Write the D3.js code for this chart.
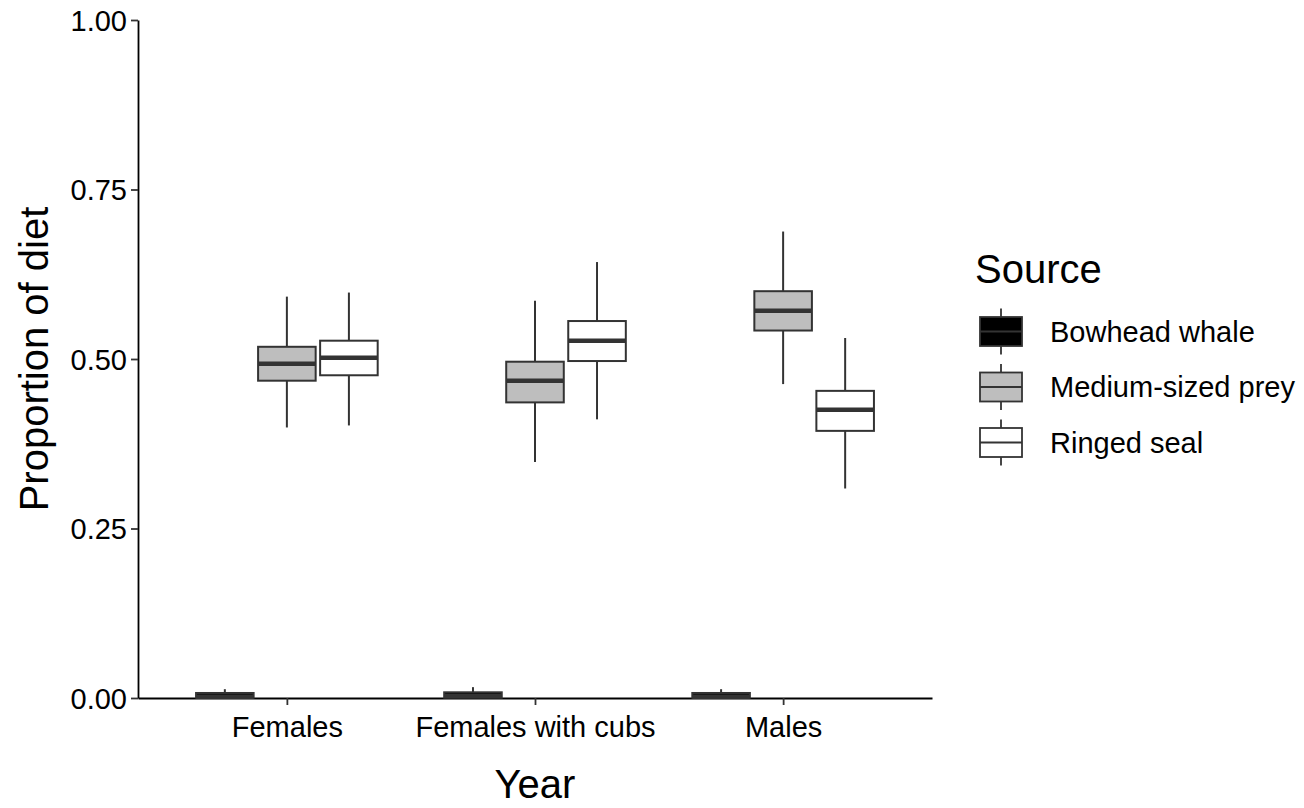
<!DOCTYPE html>
<html>
<head>
<meta charset="utf-8">
<script src="https://cdn.jsdelivr.net/npm/d3@7"></script>
<style>
  body { margin: 0; background: #fff; }
  svg text { font-family: "Liberation Sans", Arial, sans-serif; fill: #000; }
</style>
</head>
<body>
<svg id="chart" width="1304" height="808"></svg>
<script>
// categories and series
var groups = ['Females', 'Females with cubs', 'Males'];
var sources = ['Bowhead whale', 'Medium-sized prey', 'Ringed seal'];
var fills = ['#000000', '#bebebe', '#ffffff'];

// box stats per group: [lower whisker, q1, median, q3, upper whisker]
var bowheadWhale = [[0, 0.0005, 0.002, 0.0074, 0.013],
                    [0, 0.0005, 0.003, 0.0084, 0.016],
                    [0, 0.0005, 0.002, 0.0074, 0.013]];
var mediumPrey = [[0.399, 0.468, 0.493, 0.518, 0.592],
                  [0.348, 0.436, 0.468, 0.496, 0.586],
                  [0.463, 0.542, 0.571, 0.600, 0.688]];
var ringedSeal = [[0.402, 0.476, 0.502, 0.527, 0.598],
                  [0.411, 0.497, 0.527, 0.556, 0.643],
                  [0.309, 0.394, 0.425, 0.453, 0.531]];

var yTicks = [0, 0.25, 0.5, 0.75, 1];

var chart = {
  left: 138, right: 932, top: 20, bottom: 698,

  init: function() {
    var self = this;
    self.svg = d3.select('#chart');

    self.x = d3.scalePoint().domain(groups)
        .range([self.left, self.right]).padding(0.6);
    self.y = d3.scaleLinear().domain([0, 1]).range([self.bottom, self.top]);
    self.dodge = d3.scalePoint().domain(sources)
        .range([-0.25 * self.x.step(), 0.25 * self.x.step()]);
    self.boxW = 0.232 * self.x.step();

    var rows = [];
    [bowheadWhale, mediumPrey, ringedSeal].forEach(function(series, si) {
      series.forEach(function(s, gi) {
        rows.push({group: groups[gi], source: sources[si], fill: fills[si],
                   lo: s[0], q1: s[1], med: s[2], q3: s[3], hi: s[4]});
      });
    });
    self.rows = rows;

    self.drawAxes();
    self.drawBoxes();
    self.drawLegend();
  },

  drawAxes: function() {
    var self = this;

    var yAxis = self.svg.append('g')
        .attr('transform', 'translate(' + self.left + ',0)')
        .call(d3.axisLeft(self.y).tickValues(yTicks)
              .tickFormat(d3.format('.2f')).tickSize(7).tickSizeOuter(0).tickPadding(4));
    var xAxis = self.svg.append('g')
        .attr('transform', 'translate(0,' + self.bottom + ')')
        .call(d3.axisBottom(self.x).tickSize(7).tickSizeOuter(0).tickPadding(4));

    [xAxis, yAxis].forEach(function(a) {
      a.select('.domain').attr('stroke', '#000').attr('stroke-width', 1.8);
      a.selectAll('.tick line').attr('stroke', '#333').attr('stroke-width', 1.8);
      a.selectAll('.tick text').attr('font-size', 29)
          .attr('font-family', '"Liberation Sans", Arial, sans-serif').attr('fill', '#000');
    });
    xAxis.selectAll('.tick text').attr('dy', '0.95em');
    yAxis.selectAll('.tick text').attr('dy', '0.36em');

    self.svg.append('text')
        .attr('x', (self.left + self.right) / 2)
        .attr('y', 798)
        .attr('text-anchor', 'middle')
        .attr('font-size', 40)
        .text('Year');

    self.svg.append('text')
        .attr('transform', 'translate(48,' + ((self.top + self.bottom) / 2) + ') rotate(-90)')
        .attr('text-anchor', 'middle')
        .attr('font-size', 40)
        .text('Proportion of diet');
  },

  drawBoxes: function() {
    var self = this;

    var boxes = self.svg.append('g').selectAll('.box')
        .data(self.rows)
        .enter().append('g')
        .attr('class', 'box')
        .attr('transform', function(d) {
          return 'translate(' + (self.x(d.group) + self.dodge(d.source)) + ',0)';
        });

    boxes.append('line')
        .attr('y1', function(d) { return self.y(d.hi); })
        .attr('y2', function(d) { return self.y(d.q3); })
        .attr('stroke', '#333').attr('stroke-width', 2);
    boxes.append('line')
        .attr('y1', function(d) { return self.y(d.q1); })
        .attr('y2', function(d) { return self.y(d.lo); })
        .attr('stroke', '#333').attr('stroke-width', 2);

    boxes.append('rect')
        .attr('x', -self.boxW / 2)
        .attr('width', self.boxW)
        .attr('y', function(d) { return self.y(d.q3); })
        .attr('height', function(d) { return self.y(d.q1) - self.y(d.q3); })
        .attr('fill', function(d) { return d.fill; })
        .attr('stroke', '#333').attr('stroke-width', 2);

    boxes.append('line')
        .attr('x1', -self.boxW / 2).attr('x2', self.boxW / 2)
        .attr('y1', function(d) { return self.y(d.med); })
        .attr('y2', function(d) { return self.y(d.med); })
        .attr('stroke', '#333').attr('stroke-width', 4.5);
  },

  drawLegend: function() {
    var self = this;
    var lg = self.svg.append('g');

    lg.append('text')
        .attr('x', 975).attr('y', 283)
        .attr('font-size', 40)
        .text('Source');

    var keys = lg.selectAll('.key')
        .data(sources)
        .enter().append('g')
        .attr('class', 'key')
        .attr('transform', function(d, i) {
          return 'translate(1001,' + (331.5 + i * 55.5) + ')';
        });

    keys.append('line')
        .attr('y1', -23).attr('y2', 23)
        .attr('stroke', '#333').attr('stroke-width', 1.8);
    keys.append('rect')
        .attr('x', -21).attr('y', -14.5)
        .attr('width', 42).attr('height', 29)
        .attr('fill', function(d, i) { return fills[i]; })
        .attr('stroke', '#333').attr('stroke-width', 1.8);
    keys.append('line')
        .attr('x1', -21).attr('x2', 21)
        .attr('stroke', '#333').attr('stroke-width', 1.8);
    keys.append('text')
        .attr('x', 49).attr('y', 0).attr('dy', '0.36em')
        .attr('font-size', 29)
        .text(function(d) { return d; });
  }
};

chart.init();
</script>
</body>
</html>
